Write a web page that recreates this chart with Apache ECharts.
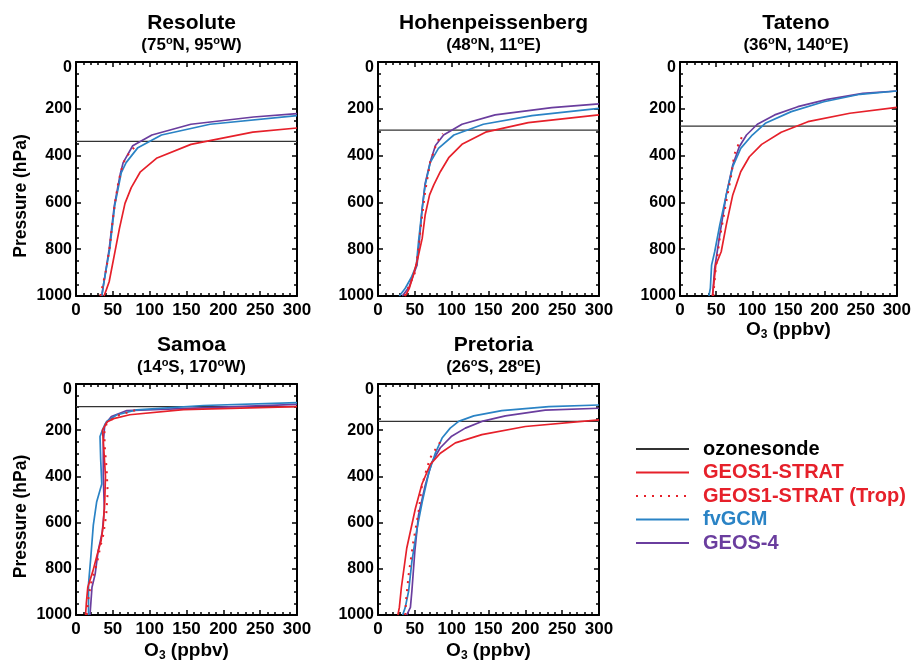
<!DOCTYPE html>
<html><head><meta charset="utf-8">
<script src="https://cdn.jsdelivr.net/npm/echarts@6/dist/echarts.min.js"></script>
<style>html,body{margin:0;padding:0;background:#fff}#c{width:914px;height:663px}</style>
</head><body><div id="c"></div>
<script>
// ---------- data ----------
const stationNames = ['Resolute', 'Hohenpeissenberg', 'Tateno', 'Samoa', 'Pretoria'];
const stationCoords = ['(75°N, 95°W)', '(48°N, 11°E)', '(36°N, 140°E)', '(14°S, 170°W)', '(26°S, 28°E)'];
const tropopause = [339, 291, 274, 98, 162];   // hPa (black line)
const seriesNames = ['ozonesonde', 'GEOS1-STRAT', 'GEOS1-STRAT (Trop)', 'fvGCM', 'GEOS-4'];

// [O3 ppbv, pressure hPa]
const resoluteGeos1 = [[38,1000],[41,975],[45,939],[52,825],[59,711],[66.5,604],[75,537],[87,471],[110,410],[156,352],[240,300],[300,282]];
const resoluteTrop  = [[33,1000],[41,886],[46,786],[49.5,687],[53,601],[57,523],[61,466],[66,420],[73,385],[84,350]];
const resoluteFv    = [[35,1000],[37,957],[45.7,801],[52.5,615],[61.5,473],[68,430],[84,366],[116,312],[182,266],[300,229]];
const resoluteG4    = [[35,1000],[37,960],[45,801],[52,615],[60,480],[64,430],[77,358],[103,312],[156,266],[241,235],[300,221]];

const hohenGeos1 = [[37,1000],[42.5,967],[48,910],[54,839],[60,754],[64,654],[70,568],[75.6,526],[84.6,469],[96,409],[114,352],[146,300],[204,259],[300,226]];
const hohenTrop  = [[36,1000],[50.7,896],[55,796],[59,682],[64,554],[71,426],[78,362],[82,333],[88,306]];
const hohenFv    = [[29,1000],[37,967],[45,922],[52,870],[55,768],[60,625],[64,526],[71,429],[82,369],[103,312],[143,266],[209,229],[300,198]];
const hohenG4    = [[33,1000],[42.5,960],[48,910],[53,867],[56,768],[60,625],[64,519],[71,426],[78,357],[89,312],[114,266],[159,226],[236,195],[300,179]];

const tatenoGeos1 = [[45,1000],[49.5,868],[57,811],[64,697],[73,568],[84,469],[96,405],[113,352],[140,300],[177,255],[235,219],[300,194]];
const tatenoTrop  = [[46,1000],[49.5,882],[55,753],[64,597],[71,483],[75,397],[82,343],[87,312]];
const tatenoFv    = [[40,1000],[42,967],[43.7,868],[48,811],[55,697],[64,568],[73,447],[84,369],[100,312],[118,262],[154,212],[199,170],[249,138],[300,124]];
const tatenoG4    = [[45,1000],[48,882],[55,739],[64,568],[73,440],[82,362],[92,312],[107,266],[131,226],[163,191],[204,160],[253,134],[300,124]];

const samoaGeos1 = [[13,1000],[14,950],[16,880],[23,809],[30,724],[34,680],[37,610],[39,510],[40,400],[38,296],[36,200],[42,165],[51,150],[73,133],[146,111],[300,98]];
const samoaTrop  = [[14.5,1000],[17,925],[21,853],[28,783],[32.6,711],[37,654],[41,568],[43,469],[41.6,369],[39,269],[38.5,212],[41.6,170],[55,138],[82,112]];
const samoaFv    = [[17,1000],[17,866],[20,754],[23.5,611],[28,511],[35,433],[33.5,326],[32.6,227],[36,198],[41.6,162],[55,134],[82,112],[173,93],[300,81]];
const samoaG4    = [[19,1000],[21.7,880],[26,823],[30,724],[35.7,640],[38.5,540],[37,397],[37,255],[39,177],[48,141],[69,115],[300,88]];

const pretoriaGeos1 = [[27,1000],[29,967],[31.7,882],[39,711],[50.7,540],[59.7,433],[71,348],[84.6,300],[105,255],[141,219],[200,184],[300,155]];
const pretoriaTrop  = [[37,1000],[38,939],[41.6,825],[48,682],[55,554],[59.7,440],[66,369],[71,319],[78,283],[88,234]];
const pretoriaFv    = [[33.5,1000],[37,967],[41.6,896],[46,768],[53,625],[60,511],[69,383],[78,298],[87,234],[98,191],[109.5,162],[130,138],[168,115],[232,98],[300,91]];
const pretoriaG4    = [[39,1000],[44,967],[46,896],[50,724],[55,568],[64,440],[73,340],[84.6,276],[100,226],[118.5,191],[141,162],[173,138],[227,113],[300,105]];

const xMin = 0, xMax = 300, xStep = 50;
const pMin = 0, pMax = 1000, pStep = 200;

// ---------- layout / style ----------
const FONT = '"Liberation Sans", Arial, Helvetica, sans-serif';
const RED = '#e6202a', BLUE = '#2a83c5', PURPLE = '#6a3d9e', BLACK = '#000';
const panels = [
  {l: 76, t: 62, w: 221}, {l: 378, t: 62, w: 221}, {l: 680, t: 62, w: 222},
  {l: 76, t: 384, w: 221}, {l: 378, t: 384, w: 221}
];
const PH = 234;
const stationData = [
  [resoluteGeos1, resoluteTrop, resoluteFv, resoluteG4],
  [hohenGeos1, hohenTrop, hohenFv, hohenG4],
  [tatenoGeos1, tatenoTrop, tatenoFv, tatenoG4],
  [samoaGeos1, samoaTrop, samoaFv, samoaG4],
  [pretoriaGeos1, pretoriaTrop, pretoriaFv, pretoriaG4]
];
const showXName = [false, false, true, true, true];
const showYName = [true, false, false, true, false];
const xNameGap = [25, 25, 23, 25, 25];

const grids = [], xAxes = [], yAxes = [], titles = [], series = [];

function xAxis(i, pos, labels) {
  return {
    gridIndex: i, type: 'value', min: xMin, max: xMax, interval: xStep, position: pos,
    axisLine: {onZero: false, lineStyle: {color: BLACK, width: 2}},
    axisTick: {inside: true, length: 5, lineStyle: {color: BLACK, width: 1.5}},
    minorTick: {show: true, splitNumber: 5, length: 3, lineStyle: {color: BLACK, width: 1.5}},
    splitLine: {show: false}, minorSplitLine: {show: false},
    axisLabel: {show: labels, color: BLACK, fontFamily: FONT, fontWeight: 'bold', fontSize: 17, margin: 6,
                formatter: v => String(v)},
    name: (labels && showXName[i]) ? '{a|O}{b|3}{a| (ppbv)}' : '',
    nameLocation: 'middle', nameGap: xNameGap[i],
    nameTextStyle: {
      color: BLACK, fontFamily: FONT, fontWeight: 'bold',
      rich: {
        a: {fontSize: 19, fontWeight: 'bold', fontFamily: FONT, color: BLACK, lineHeight: 22},
        b: {fontSize: 12, fontWeight: 'bold', fontFamily: FONT, color: BLACK, lineHeight: 12, verticalAlign: 'bottom'}
      }
    }
  };
}
function yAxis(i, pos, labels) {
  return {
    gridIndex: i, type: 'value', min: pMin, max: pMax, interval: pStep, inverse: true, position: pos,
    axisLine: {onZero: false, lineStyle: {color: BLACK, width: 2}},
    axisTick: {inside: true, length: 5, lineStyle: {color: BLACK, width: 1.5}},
    minorTick: {show: true, splitNumber: 4, length: 3, lineStyle: {color: BLACK, width: 1.5}},
    splitLine: {show: false}, minorSplitLine: {show: false},
    axisLabel: {show: labels, color: BLACK, fontFamily: FONT, fontWeight: 'bold', fontSize: 16, margin: 4,
                lineHeight: 12, verticalAlignMinLabel: 'top', formatter: v => String(v)},
    name: (labels && showYName[i]) ? 'Pressure (hPa)' : '',
    nameLocation: 'middle', nameGap: 46, nameRotate: 90,
    nameTextStyle: {color: BLACK, fontFamily: FONT, fontWeight: 'bold', fontSize: 17.5, padding: [0, 34, 0, 0]}
  };
}

panels.forEach((p, i) => {
  grids.push({left: p.l, top: p.t, width: p.w, height: PH});
  xAxes.push(xAxis(i, 'bottom', true), xAxis(i, 'top', false));
  yAxes.push(yAxis(i, 'left', true), yAxis(i, 'right', false));
  titles.push({
    text: stationNames[i],
    subtext: stationCoords[i].replace(/°/g, '{s|o}'),
    left: p.l + p.w / 2, top: p.t - 56, textAlign: 'center', itemGap: 0,
    textStyle: {color: BLACK, fontFamily: FONT, fontWeight: 'bold', fontSize: 21, lineHeight: 24},
    subtextStyle: {
      color: BLACK, fontFamily: FONT, fontWeight: 'bold', fontSize: 17, lineHeight: 20,
      rich: {s: {color: BLACK, fontFamily: FONT, fontWeight: 'bold', fontSize: 11, lineHeight: 4, verticalAlign: 'top'}}
    }
  });
  const base = {type: 'line', xAxisIndex: 2 * i, yAxisIndex: 2 * i, symbol: 'none', showSymbol: false,
                silent: true, animation: false, clip: true, emphasis: {disabled: true}};
  const d = stationData[i];
  series.push(Object.assign({}, base, {name: seriesNames[0], data: [[xMin, tropopause[i]], [xMax, tropopause[i]]],
    lineStyle: {color: '#333', width: 1.2}, itemStyle: {color: '#000'}}));
  series.push(Object.assign({}, base, {name: seriesNames[4], data: d[3], lineStyle: {color: PURPLE, width: 1.7}, itemStyle: {color: PURPLE}}));
  series.push(Object.assign({}, base, {name: seriesNames[3], data: d[2], lineStyle: {color: BLUE, width: 1.7}, itemStyle: {color: BLUE}}));
  series.push(Object.assign({}, base, {name: seriesNames[1], data: d[0], lineStyle: {color: RED, width: 1.7}, itemStyle: {color: RED}}));
  series.push(Object.assign({}, base, {name: seriesNames[2], data: d[1], lineStyle: {color: RED, width: 2, type: [2, 6]}, itemStyle: {color: RED}}));
});

const legendColors = [BLACK, RED, RED, BLUE, PURPLE];
const option = {
  backgroundColor: '#fff',
  animation: false,
  title: titles,
  grid: grids,
  xAxis: xAxes,
  yAxis: yAxes,
  series: series,
  legend: {
    orient: 'vertical', left: 630, top: 434, itemWidth: 53, itemHeight: 14, itemGap: 3.5,
    selectedMode: false,
    itemStyle: {opacity: 0},
    data: seriesNames.map((n, k) => ({name: n, textStyle: {color: legendColors[k]}})),
    textStyle: {fontFamily: FONT, fontWeight: 'bold', fontSize: 20, lineHeight: 20, padding: [0, 0, 0, 9]}
  }
};
const chart = echarts.init(document.getElementById('c'), null, {renderer: 'canvas'});
chart.setOption(option);
</script></body></html>
